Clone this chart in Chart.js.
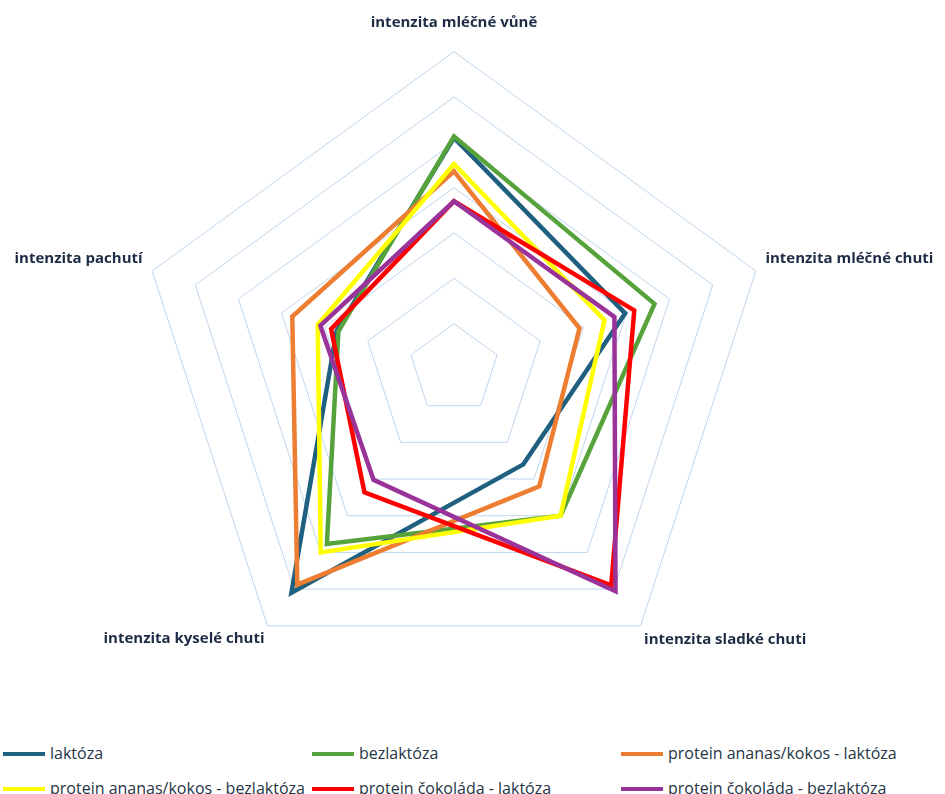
<!DOCTYPE html>
<html>
<head>
<meta charset="utf-8">
<script src="https://cdn.jsdelivr.net/npm/chart.js@4/dist/chart.umd.min.js"></script>
<style>
  html, body { margin: 0; padding: 0; background: #fff; overflow: hidden; width: 945px; height: 794px; }
  #wrap { position: absolute; left: -146px; top: -4px; width: 1200px; height: 711px; }
  .leg { position: absolute; font-family: "Open Sans", sans-serif; font-size: 16px; color: #263445; white-space: nowrap; line-height: 20px; }
  .leg i { display: inline-block; width: 42px; height: 4px; vertical-align: middle; margin-right: 5px; position: relative; top: -1px; }
</style>
</head>
<body>
<div id="wrap"><canvas id="radarChart"></canvas></div>
<div id="legend"></div>
<script>
// axes (clockwise from top)
const categories = ['intenzita mléčné vůně', 'intenzita mléčné chuti', 'intenzita sladké chuti', 'intenzita kyselé chuti', 'intenzita pachutí'];

const seriesNames = ['laktóza', 'bezlaktóza', 'protein ananas/kokos - laktóza', 'protein ananas/kokos - bezlaktóza', 'protein čokoláda - laktóza', 'protein čokoláda - bezlaktóza'];
const seriesColors = ['#1f5f80', '#55a33a', '#ed7d31', '#ffff00', '#ff0000', '#993399'];

// values
const laktoza = [5.10, 3.97, 2.60, 6.10, 2.72];
const bezlaktoza = [5.13, 4.65, 4.00, 4.77, 2.68];
const ananasLaktoza = [4.36, 2.91, 3.20, 5.88, 3.75];
const ananasBezlaktoza = [4.52, 3.49, 4.00, 5.00, 3.16];
const cokoladaLaktoza = [3.70, 4.18, 5.90, 3.36, 2.85];
const cokoladaBezlaktoza = [3.70, 3.72, 6.06, 3.02, 3.10];

const seriesValues = [laktoza, bezlaktoza, ananasLaktoza, ananasBezlaktoza, cokoladaLaktoza, cokoladaBezlaktoza];

const datasets = seriesValues.map((vals, i) => ({
    label: seriesNames[i],
    data: vals,
    borderColor: seriesColors[i],
    backgroundColor: seriesColors[i],
    borderWidth: 4.5,
    pointRadius: 0,
    fill: false,
    borderJoinStyle: 'miter',
    order: seriesValues.length - i   // later series drawn on top, like in Excel
}));

const ctx = document.getElementById('radarChart').getContext('2d');
new Chart(ctx, {
    type: 'radar',
    data: { labels: categories, datasets: datasets },
    options: {
        responsive: true,
        maintainAspectRatio: false,
        animation: false,
        plugins: { legend: { display: false }, tooltip: { enabled: false } },
        scales: {
            r: {
                min: 0,
                max: 7,
                ticks: { display: false, stepSize: 1 },
                grid: { color: '#bfd5ee', lineWidth: 1 },
                angleLines: { display: false },
                pointLabels: {
                    color: '#1d2b45',
                    font: { family: 'Open Sans', size: 15, weight: 'bold' },
                    padding: (c) => [19.6, 10, 6, 5, 10][c.index]
                }
            }
        }
    }
});

// legend in three columns, two rows
const legendPos = [[3, 743], [312, 743], [621, 743], [3, 778], [312, 778], [621, 778]];
const legendEl = document.getElementById('legend');
seriesNames.forEach((name, i) => {
    const item = document.createElement('div');
    item.className = 'leg';
    item.style.left = legendPos[i][0] + 'px';
    item.style.top = legendPos[i][1] + 'px';
    item.innerHTML = `<i style="background:${seriesColors[i]}"></i>${name}`;
    legendEl.appendChild(item);
});
</script>
</body>
</html>
